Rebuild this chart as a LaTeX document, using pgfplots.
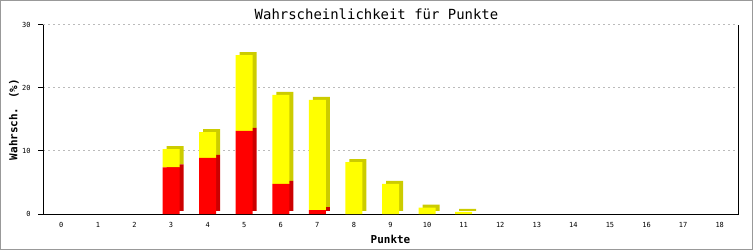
\documentclass[border=0pt]{standalone}
\usepackage{fontspec}
\setmainfont{DejaVu Sans Mono}
\usepackage{pgfplots}
\usepackage{pgfplotstable}
\pgfplotsset{compat=1.18}
\definecolor{barred}{HTML}{FF0000}
\definecolor{darkred}{HTML}{CC0000}
\definecolor{baryellow}{HTML}{FFFF00}
\definecolor{darkyellow}{HTML}{CCCC00}
\definecolor{bordergray}{HTML}{999999}
\definecolor{gridgray}{HTML}{BBBBBB}

\pgfplotstableread{
x red yellow
0 0 0
1 0 0
2 0 0
3 7.4 2.9
4 8.9 4.1
5 13.2 12.0
6 4.8 14.1
7 0.6 17.5
8 0 8.25
9 0 4.8
10 0 1.0
11 0 0.35
12 0 0
13 0 0
14 0 0
15 0 0
16 0 0
17 0 0
18 0 0
}\data

\pgfplotsset{base/.style={
  scale only axis, width=695bp, height=189bp,
  at={(43bp,36bp)}, anchor=south west,
  xmin=-0.5, xmax=18.5, ymin=0, ymax=30,
  ybar stacked, bar width=17bp,
  axis line style={draw=none},
  clip=false,
}}

\begin{document}
\begin{tikzpicture}
\path[use as bounding box] (0,0) rectangle (753bp,250bp);
\draw[bordergray, line width=1bp] (0.5bp,0.5bp) rectangle (752.5bp,249.5bp);

% background: grid and 3D shadows
\begin{axis}[base,
  xtick=\empty, ytick={10,20,30}, yticklabels={},
  major tick length=0pt,
  ymajorgrids, grid style={gridgray, line width=1bp, dash pattern=on 2bp off 3bp},
]
\addplot[fill=darkred, draw=none, xshift=4bp, yshift=3bp] table[x=x, y=red] {\data};
\addplot[fill=darkyellow, draw=none, xshift=4bp, yshift=3bp] table[x=x, y=yellow] {\data};
\end{axis}

% front bars, ticks, labels
\begin{axis}[base,
  xtick={0,...,18}, ytick={0,10,20,30},
  ytick pos=left, xtick pos=bottom,
  tick align=outside, major tick length=5bp,
  xtick style={draw=none},
  ytick style={black, line width=1bp},
  tick label style={font=\fontsize{7}{8}\selectfont},
  yticklabel style={xshift=-4bp},
  /pgf/number format/assume math mode=true,
  xlabel={\textbf{Punkte}}, ylabel={\textbf{Wahrsch. (\%)}},
  every axis x label/.style={at={(axis description cs:0.5,0)}, anchor=center, yshift=-25bp, font=\fontsize{11}{12}\selectfont},
  every axis y label/.style={at={(axis description cs:-0.0417,0.5)}, anchor=center, rotate=90, font=\fontsize{11}{12}\selectfont},
]
\addplot[fill=barred, draw=none] table[x=x, y=red] {\data};
\addplot[fill=baryellow, draw=none] table[x=x, y=yellow] {\data};
\draw[black, line width=1bp] (rel axis cs:0,1) -- (rel axis cs:0,0) -- (rel axis cs:1,0) -- (rel axis cs:1,1);
\end{axis}

\node[font=\fontsize{14}{16}\selectfont] at (376.5bp,236bp) {Wahrscheinlichkeit für Punkte};
\end{tikzpicture}
\end{document}
